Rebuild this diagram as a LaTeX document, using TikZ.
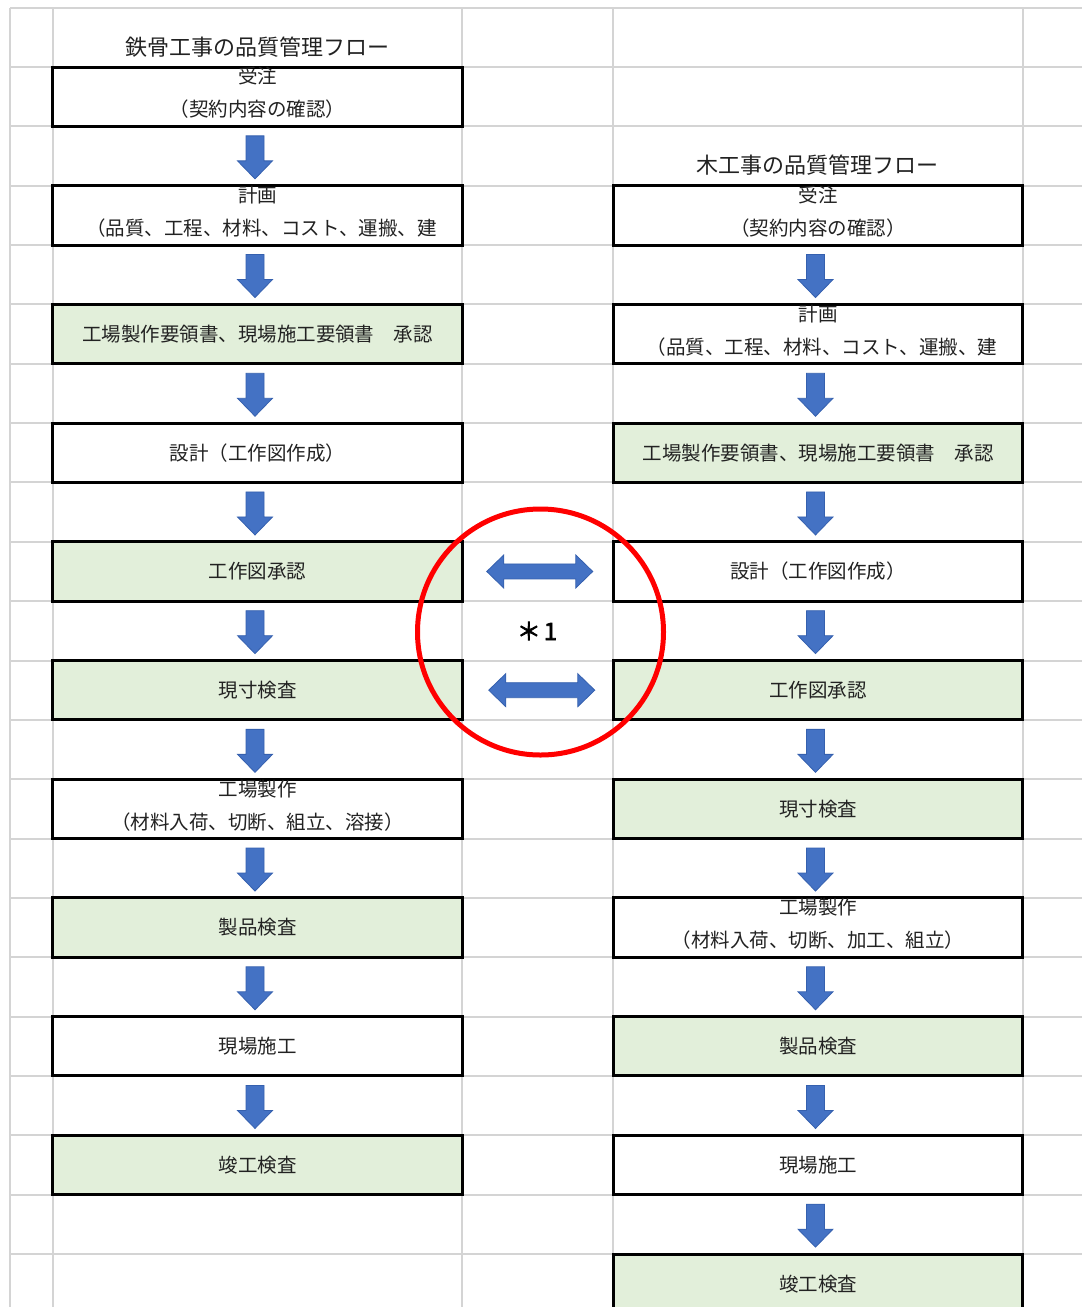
\documentclass[tikz,border=0pt]{standalone}
\usepackage{fontspec}
\setmainfont{Noto Sans CJK JP}
\newfontfamily\cjkbold[FakeBold=3]{Noto Sans CJK JP}
\usetikzlibrary{calc}
\definecolor{gridc}{HTML}{D4D4D4}
\definecolor{greenc}{HTML}{E2EFDA}
\definecolor{bluec}{HTML}{4472C4}
\definecolor{blued}{HTML}{3560AE}
\definecolor{txtc}{HTML}{222222}
\newcommand\rc[1]{67+#1*59.35+29.675}
\newcommand\dnarrow[2]{%
  \filldraw[blk] ($(#1.south)+(#2-9,8)$) -- ($(#1.south)+(#2+9,8)$) -- ($(#1.south)+(#2+9,33)$) -- ($(#1.south)+(#2+17.5,33)$) -- ($(#1.south)+(#2,51)$) -- ($(#1.south)+(#2-17.5,33)$) -- ($(#1.south)+(#2-9,33)$) -- cycle;}
\newcommand\lrarrow[4]{%
  \coordinate (A) at ($(#1.east)+(#3,0)$);
  \coordinate (B) at ($(#2.west)+(-#4,0)$);
  \filldraw[blk] (A) -- ($(A)+(17,-16.5)$) -- ($(A)+(17,-7.5)$) -- ($(B)+(-17,-7.5)$) -- ($(B)+(-17,-16.5)$) -- (B) -- ($(B)+(-17,16.5)$) -- ($(B)+(-17,7.5)$) -- ($(A)+(17,7.5)$) -- ($(A)+(17,16.5)$) -- cycle;}
\begin{document}
\begin{tikzpicture}[x=1pt,y=-1pt,
  gridline/.style={draw=gridc, line width=2pt},
  box/.style={draw=black, line width=3pt, minimum width=409.5pt, minimum height=59.35pt, inner sep=0pt, fill=white, font=\fontsize{19.5}{22}\selectfont, text=txtc},
  gbox/.style={box, fill=greenc},
  txt/.style={font=\fontsize{19.5}{22}\selectfont, text=txtc, inner sep=0pt},
  ttl/.style={font=\fontsize{22}{25}\selectfont, text=txtc, inner sep=0pt},
  blk/.style={fill=bluec, draw=blued, line width=0.8pt, line join=miter}]
\useasboundingbox (0,0) rectangle (1082,1307);
\fill[white] (0,0) rectangle (1082,1307);
% grid
\foreach \k in {0,...,21} \draw[gridline] (10,{7.65+\k*59.35}) -- (1082,{7.65+\k*59.35});
\foreach \x in {10,53,462,613,1023} \draw[gridline] (\x,7.65) -- (\x,1307);
% titles
\node[ttl] (T1) at (257.5,47) {鉄骨工事の品質管理フロー};
\node[ttl] (T2) at (817,165) {木工事の品質管理フロー};
% left column
\node[box]  (L1)  at (257.5,{\rc{0}}) {};
\node[box]  (L2)  at (257.5,{\rc{2}}) {};
\node[gbox] (L3)  at (257.5,{\rc{4}}) {工場製作要領書、現場施工要領書　承認};
\node[box]  (L4)  at (257.5,{\rc{6}}) {設計（工作図作成）};
\node[gbox] (L5)  at (257.5,{\rc{8}}) {工作図承認};
\node[gbox] (L6)  at (257.5,{\rc{10}}) {現寸検査};
\node[box]  (L7)  at (257.5,{\rc{12}}) {};
\node[gbox] (L8)  at (257.5,{\rc{14}}) {製品検査};
\node[box]  (L9)  at (257.5,{\rc{16}}) {現場施工};
\node[gbox] (L10) at (257.5,{\rc{18}}) {竣工検査};
\node[txt] (L1a) at ($(L1.north)+(0,11)$) {受注};
\node[txt] (L1b) at ($(L1.north)+(0,44)$) {（契約内容の確認）};
\node[txt] (L2a) at ($(L2.north)+(0,11)$) {計画};
\node[txt] (L2b) at ($(L2.north)+(4,44)$) {（品質、工程、材料、コスト、運搬、建};
\node[txt] (L7a) at ($(L7.north)+(0,11)$) {工場製作};
\node[txt] (L7b) at ($(L7.north)+(0,44)$) {（材料入荷、切断、組立、溶接）};
% right column
\node[box]  (R1)  at (818,{\rc{2}}) {};
\node[box]  (R2)  at (818,{\rc{4}}) {};
\node[gbox] (R3)  at (818,{\rc{6}}) {工場製作要領書、現場施工要領書　承認};
\node[box]  (R4)  at (818,{\rc{8}}) {設計（工作図作成）};
\node[gbox] (R5)  at (818,{\rc{10}}) {工作図承認};
\node[gbox] (R6)  at (818,{\rc{12}}) {現寸検査};
\node[box]  (R7)  at (818,{\rc{14}}) {};
\node[gbox] (R8)  at (818,{\rc{16}}) {製品検査};
\node[box]  (R9)  at (818,{\rc{18}}) {現場施工};
\node[gbox] (R10) at (818,{\rc{20}}) {竣工検査};
\node[txt] (R1a) at ($(R1.north)+(0,11)$) {受注};
\node[txt] (R1b) at ($(R1.north)+(0,44)$) {（契約内容の確認）};
\node[txt] (R2a) at ($(R2.north)+(0,11)$) {計画};
\node[txt] (R2b) at ($(R2.north)+(4,44)$) {（品質、工程、材料、コスト、運搬、建};
\node[txt] (R7a) at ($(R7.north)+(0,11)$) {工場製作};
\node[txt] (R7b) at ($(R7.north)+(0,44)$) {（材料入荷、切断、加工、組立）};
% down arrows
\foreach \n in {L1,L2,L3,L4,L5,L6,L7,L8,L9} {\dnarrow{\n}{-2.5}}
\foreach \n in {R1,R2,R3,R4,R5,R6,R7,R8,R9} {\dnarrow{\n}{-2.5}}
% double arrows
\lrarrow{L5}{R4}{23}{19}
\lrarrow{L6}{R5}{25}{17}
% circle and note
\node[circle, draw=red, line width=5pt, minimum size=246pt, inner sep=0pt] (ring) at (540.5,632) {};
\node[inner sep=0pt, text=black, font=\cjkbold\fontsize{24}{26}\selectfont] (note) at (537,631) {＊\hspace{3pt}1};
\end{tikzpicture}
\end{document}
